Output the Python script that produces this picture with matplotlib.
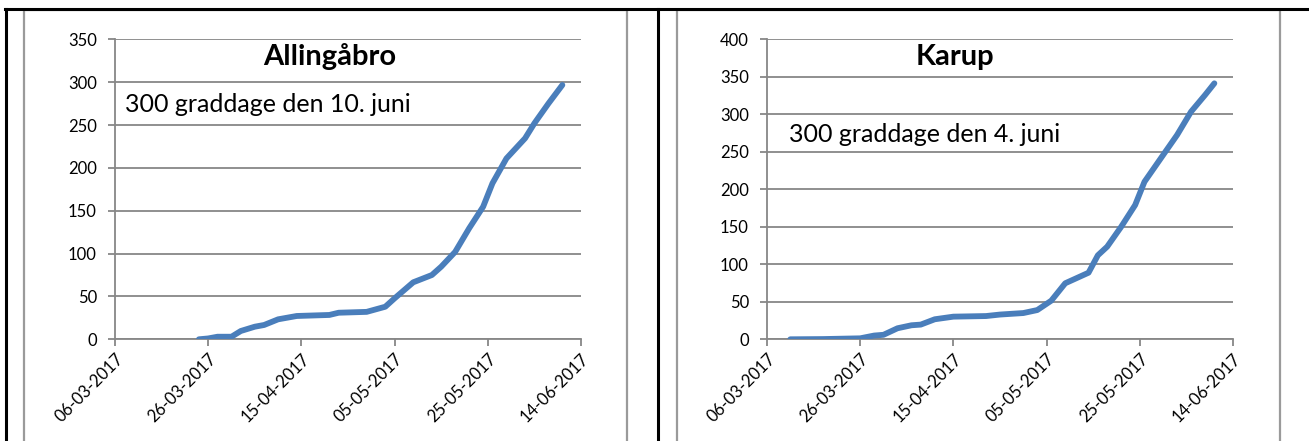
import matplotlib
matplotlib.use("Agg")
import matplotlib.pyplot as plt
import matplotlib.dates as mdates
from matplotlib.patches import Rectangle
from matplotlib.lines import Line2D
import datetime as dt

# ---- data ----
titles = ["Allingåbro", "Karup"]
notes = ["300 graddage den 10. juni", "300 graddage den 4. juni"]

allingaabro_dates = ["2017-03-24", "2017-03-26", "2017-03-28", "2017-03-31", "2017-04-02",
                     "2017-04-05", "2017-04-07", "2017-04-10", "2017-04-14", "2017-04-21",
                     "2017-04-23", "2017-04-29", "2017-05-03", "2017-05-05", "2017-05-09",
                     "2017-05-13", "2017-05-15", "2017-05-18", "2017-05-21", "2017-05-24",
                     "2017-05-26", "2017-05-29", "2017-06-02", "2017-06-04", "2017-06-07",
                     "2017-06-10"]
allingaabro_vals = [0, 1, 3, 3, 9.7, 14.7, 16.7, 23.3, 27.2, 28.4,
                    31, 32, 38, 47.8, 66.5, 75, 84.7, 102, 129.5, 154.7,
                    182, 211, 234.5, 252, 275, 296.7]

karup_dates = ["2017-03-11", "2017-03-18", "2017-03-22", "2017-03-26", "2017-03-29",
               "2017-03-31", "2017-04-03", "2017-04-06", "2017-04-08", "2017-04-11",
               "2017-04-15", "2017-04-22", "2017-04-25", "2017-04-30", "2017-05-03",
               "2017-05-06", "2017-05-09", "2017-05-14", "2017-05-16", "2017-05-18",
               "2017-05-21", "2017-05-24", "2017-05-26", "2017-05-30", "2017-06-02",
               "2017-06-05", "2017-06-08", "2017-06-10"]
karup_vals = [0, 0.3, 0.8, 1.3, 5, 6, 14.7, 18.7, 19.6, 26.7,
              30.2, 31, 33, 35, 39, 51.5, 74.7, 88.8, 112, 123.5,
              150, 179, 210, 245.7, 272.4, 303.5, 325.7, 341.3]

tick_dates = ["2017-03-06", "2017-03-26", "2017-04-15", "2017-05-05", "2017-05-25", "2017-06-14"]
ymax = [350, 400]

def d(s):
    return dt.datetime.strptime(s, "%Y-%m-%d")

W, H = 1309, 441
fig = plt.figure(figsize=(W / 100, H / 100), dpi=100)
fig.patch.set_facecolor("white")

FONT = "Lato"
grid_c = "#878787"
line_c = "#4a7ebb"

def fx(px):
    return px / W

def fy(py):
    return 1 - py / H

# table borders and chart frames
fig.add_artist(Line2D([fx(5), 1], [fy(8.5), fy(8.5)], color="black", lw=2.2))
fig.add_artist(Line2D([fx(6), fx(6)], [fy(8.5), 0], color="black", lw=2.2))
fig.add_artist(Line2D([fx(658), fx(658)], [fy(8.5), 0], color="black", lw=2.2))
for x0, x1 in [(24.5, 627), (677, 1280)]:
    fig.add_artist(Rectangle((fx(x0), fy(445)), fx(x1 - x0), fy(10) - fy(445),
                             fill=False, edgecolor="#9a9a9a", lw=1.6))

panels = [
    (115, 581, allingaabro_dates, allingaabro_vals, 0),
    (767, 1233, karup_dates, karup_vals, 1),
]
ytop, ybot = 39.3, 339.3
note_pos = [(125, 105), (789, 135)]
title_x = [330, 955]

for (x0, x1, ds, vs, i) in panels:
    ax = fig.add_axes([fx(x0), fy(ybot), fx(x1 - x0), fy(ytop) - fy(ybot)])
    ax.set_facecolor("none")
    ax.plot([d(s) for s in ds], vs, color=line_c, lw=4.2, solid_capstyle="round",
            solid_joinstyle="round", zorder=3)
    ax.set_xlim(d(tick_dates[0]), d(tick_dates[-1]))
    ax.set_ylim(0, ymax[i])
    ax.set_yticks(range(0, ymax[i] + 1, 50))
    ax.set_xticks([d(s) for s in tick_dates])
    ax.xaxis.set_major_formatter(mdates.DateFormatter("%d-%m-%Y"))
    ax.grid(axis="y", color=grid_c, lw=1.3)
    ax.set_axisbelow(True)
    for sp in ["top", "right"]:
        ax.spines[sp].set_visible(False)
    for sp in ["left", "bottom"]:
        ax.spines[sp].set_color(grid_c)
        ax.spines[sp].set_linewidth(1.3)
    ax.tick_params(axis="both", colors=grid_c, length=5, width=1.3, direction="out",
                   labelcolor="black", labelsize=12)
    ax.tick_params(axis="y", pad=8)
    ax.tick_params(axis="x", pad=3)
    for lab in ax.get_yticklabels():
        lab.set_fontfamily(FONT)
    for lab in ax.get_xticklabels():
        lab.set_fontfamily(FONT)
        lab.set_rotation(45)
        lab.set_ha("right")
        lab.set_va("top")
        lab.set_rotation_mode("anchor")

    fig.text(fx(title_x[i]), fy(57), titles[i], ha="center", va="center",
             fontsize=21, fontweight="bold", family=FONT)
    nx, ny = note_pos[i]
    fig.text(fx(nx), fy(ny), notes[i], ha="left", va="center",
             fontsize=18, family=FONT)

fig.savefig("out.png", dpi=100)
